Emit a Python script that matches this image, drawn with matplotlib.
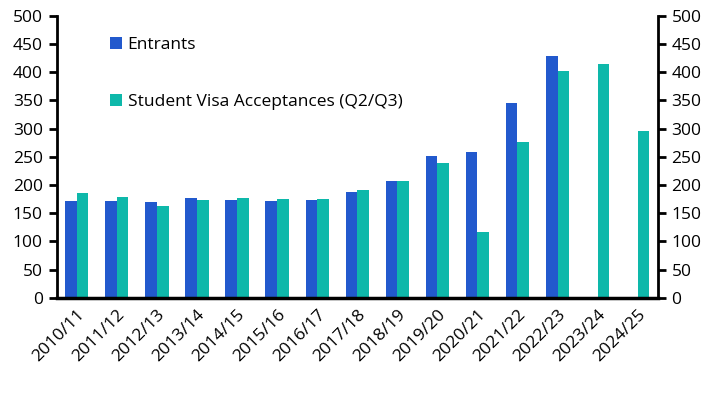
import matplotlib.pyplot as plt
import numpy as np

years = ["2010/11", "2011/12", "2012/13", "2013/14", "2014/15", "2015/16", "2016/17",
         "2017/18", "2018/19", "2019/20", "2020/21", "2021/22", "2022/23", "2023/24", "2024/25"]
entrants = [171, 171, 170, 177, 173, 171, 173, 187, 207, 251, 258, 345, 428, np.nan, np.nan]
visas = [186, 179, 163, 174, 177, 175, 175, 191, 207, 239, 117, 276, 402, 414, 296]

plt.rcParams['font.family'] = ['Open Sans', 'DejaVu Sans']

fig, ax = plt.subplots(figsize=(7.18, 3.93), dpi=100)
fig.subplots_adjust(left=0.079, right=0.916, top=0.96, bottom=0.242)

x = np.arange(len(years))
w = 0.29
ax.bar(x - w / 2, entrants, width=w, color="#2259cd", label="Entrants")
ax.bar(x + w / 2, visas, width=w, color="#0eb8aa", label="Student Visa Acceptances (Q2/Q3)")

ax.set_xlim(-0.5, len(years) - 0.5)
ax.set_ylim(0, 500)
ax.set_yticks(range(0, 501, 50))
ax.set_xticks(x)
ax.set_xticklabels(years, rotation=45, ha="right", rotation_mode="anchor")

ax.spines["top"].set_visible(False)
for s in ["left", "right"]:
    ax.spines[s].set_linewidth(2)
ax.spines["bottom"].set_linewidth(2.5)

ax.tick_params(axis="y", which="both", left=True, right=True, labelright=True,
               direction="out", length=6, width=2, labelsize=12.5, pad=4)
ax.tick_params(axis="x", length=0, labelsize=12.5, pad=6)

ax.legend(loc="upper left", bbox_to_anchor=(0.063, 0.98), frameon=False, fontsize=12.5,
          handlelength=0.7, handleheight=0.7, handletextpad=0.3, labelspacing=2.35)

fig.savefig("out.png", dpi=100)
